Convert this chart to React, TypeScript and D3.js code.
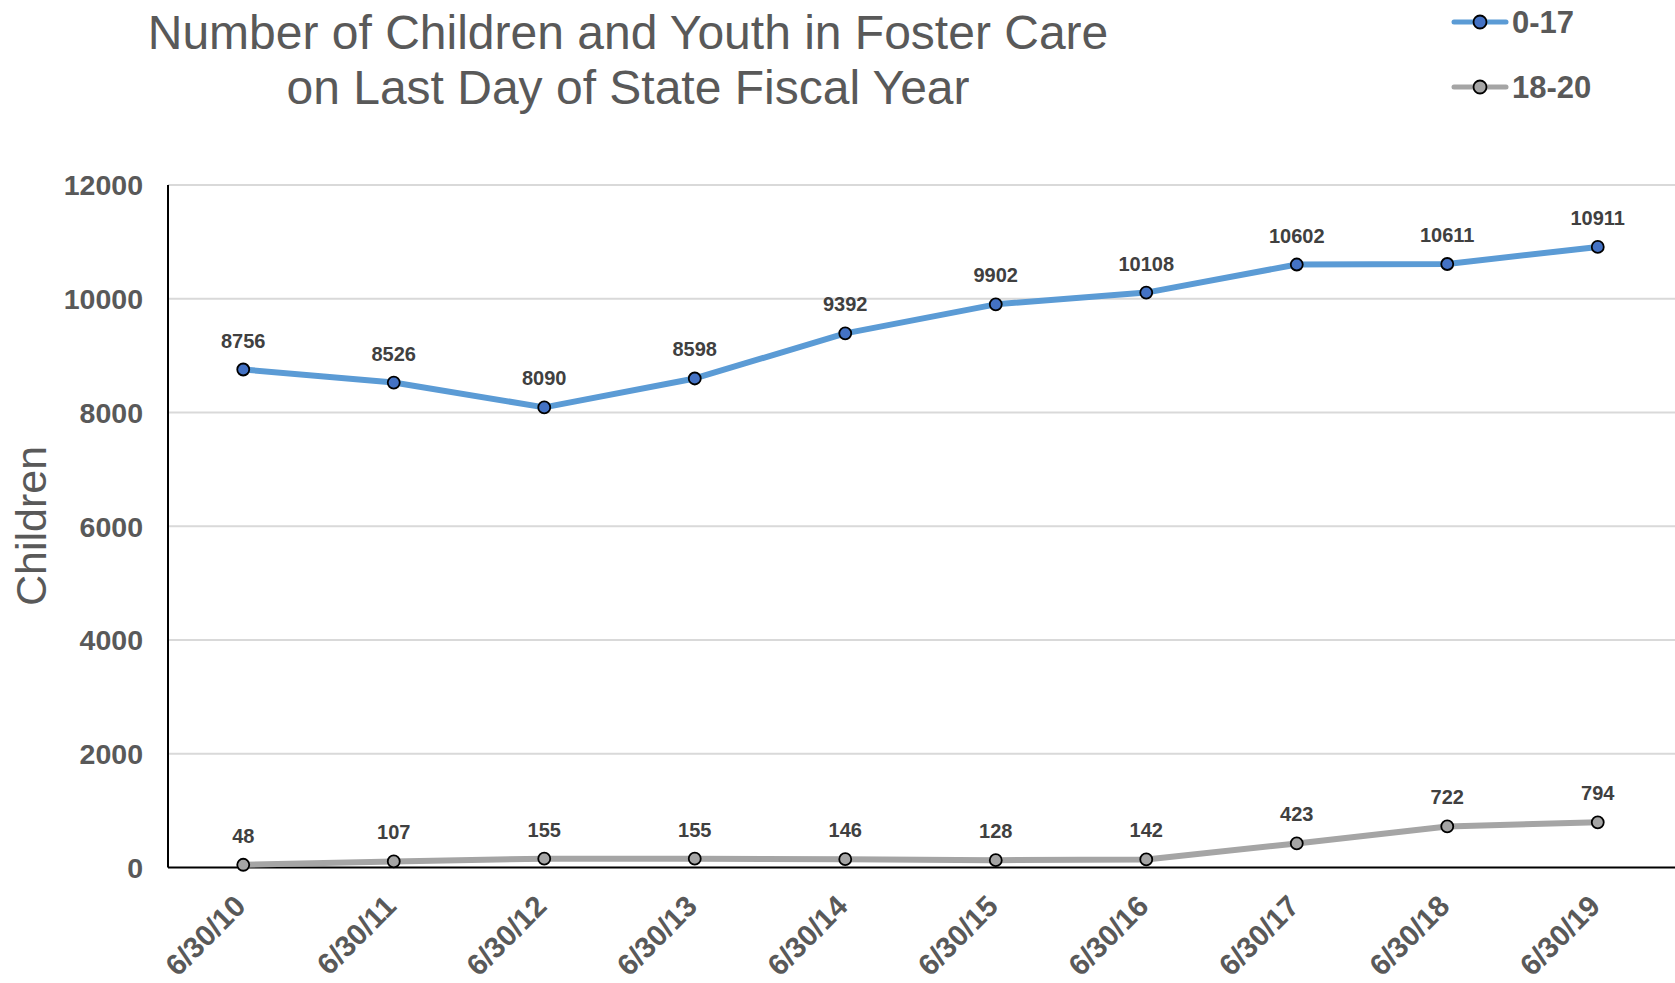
import React from "react";
import * as d3 from "d3";

const categories: string[] = ["6/30/10", "6/30/11", "6/30/12", "6/30/13", "6/30/14", "6/30/15", "6/30/16", "6/30/17", "6/30/18", "6/30/19"];
const youth017: number[] = [8756, 8526, 8090, 8598, 9392, 9902, 10108, 10602, 10611, 10911];
const youth1820: number[] = [48, 107, 155, 155, 146, 128, 142, 423, 722, 794];
const yTicks: number[] = [0, 2000, 4000, 6000, 8000, 10000, 12000];
const titleLines: string[] = ["Number of Children and Youth in Foster Care", "on Last Day of State Fiscal Year"];
const yAxisLabel = "Children";

const W = 1675;
const H = 983;
const FONT = "'Liberation Sans', Arial, Helvetica, sans-serif";

const series = [
  { name: "0-17", values: youth017, line: "#5B9BD5", fill: "#4472C4" },
  { name: "18-20", values: youth1820, line: "#A5A5A5", fill: "#A5A5A5" },
];

export default function App() {
  const left = 168;
  const right = 1673;
  const top = 185;
  const bottom = 867.5;

  const x = d3.scalePoint<string>().domain(categories).range([left, right]).padding(0.5);
  const y = d3.scaleLinear().domain([0, 12000]).range([bottom, top]);

  const line = d3
    .line<number>()
    .x((_, i) => x(categories[i]) as number)
    .y((d) => y(d));

  return (
    <svg
      width={W}
      height={H}
      style={{ position: "absolute", left: 0, top: 0, display: "block", background: "#fff" }}
      fontFamily={FONT}
    >
      <rect x={0} y={0} width={W} height={H} fill="#fff" />
      {/* Title */}
      {titleLines.map((t, i) => (
        <text key={t} x={628} y={49 + i * 54.5} textAnchor="middle" fontSize={48} fill="#595959">
          {t}
        </text>
      ))}

      {/* Gridlines */}
      {yTicks.map((t) =>
        t === 0 ? null : (
          <line key={t} x1={left} x2={W} y1={y(t)} y2={y(t)} stroke="#D9D9D9" strokeWidth={2} />
        )
      )}

      {/* Y tick labels */}
      {yTicks.map((t) => (
        <text
          key={"yl" + t}
          x={143}
          y={y(t)}
          dy="0.36em"
          textAnchor="end"
          fontSize={28.5}
          fontWeight="bold"
          fill="#595959"
        >
          {t}
        </text>
      ))}

      {/* Axes */}
      <line x1={left} x2={left} y1={top} y2={bottom} stroke="#000" strokeWidth={2} />
      <line x1={left} x2={W} y1={bottom} y2={bottom} stroke="#000" strokeWidth={2} />

      {/* Y axis title */}
      <text
        transform={`translate(46,526) rotate(-90)`}
        textAnchor="middle"
        fontSize={43}
        fill="#595959"
      >
        {yAxisLabel}
      </text>

      {/* X tick labels */}
      {categories.map((c) => (
        <text
          key={c}
          transform={`translate(${(x(c) as number) + 4},908) rotate(-45)`}
          textAnchor="end"
          fontSize={29.5}
          fontWeight="bold"
          fill="#595959"
        >
          {c}
        </text>
      ))}

      {/* Series */}
      {series.map((s) => (
        <g key={s.name}>
          <path d={line(s.values) as string} fill="none" stroke={s.line} strokeWidth={6} strokeLinejoin="round" />
          {s.values.map((v, i) => (
            <circle
              key={i}
              cx={x(categories[i]) as number}
              cy={y(v)}
              r={6}
              fill={s.fill}
              stroke="#000"
              strokeWidth={1.8}
            />
          ))}
          {s.values.map((v, i) => (
            <text
              key={"l" + i}
              x={x(categories[i]) as number}
              y={y(v) - 22}
              textAnchor="middle"
              fontSize={20}
              fontWeight="bold"
              fill="#404040"
            >
              {v}
            </text>
          ))}
        </g>
      ))}

      {/* Legend */}
      {series.map((s, i) => {
        const cy = 22 + i * 65;
        return (
          <g key={"lg" + s.name}>
            <line x1={1454} x2={1506} y1={cy} y2={cy} stroke={s.line} strokeWidth={5} strokeLinecap="round" />
            <circle cx={1480} cy={cy} r={6.5} fill={s.fill} stroke="#000" strokeWidth={1.8} />
            <text x={1512} y={cy + 11} fontSize={31} fontWeight="bold" fill="#595959">
              {s.name}
            </text>
          </g>
        );
      })}
    </svg>
  );
}
